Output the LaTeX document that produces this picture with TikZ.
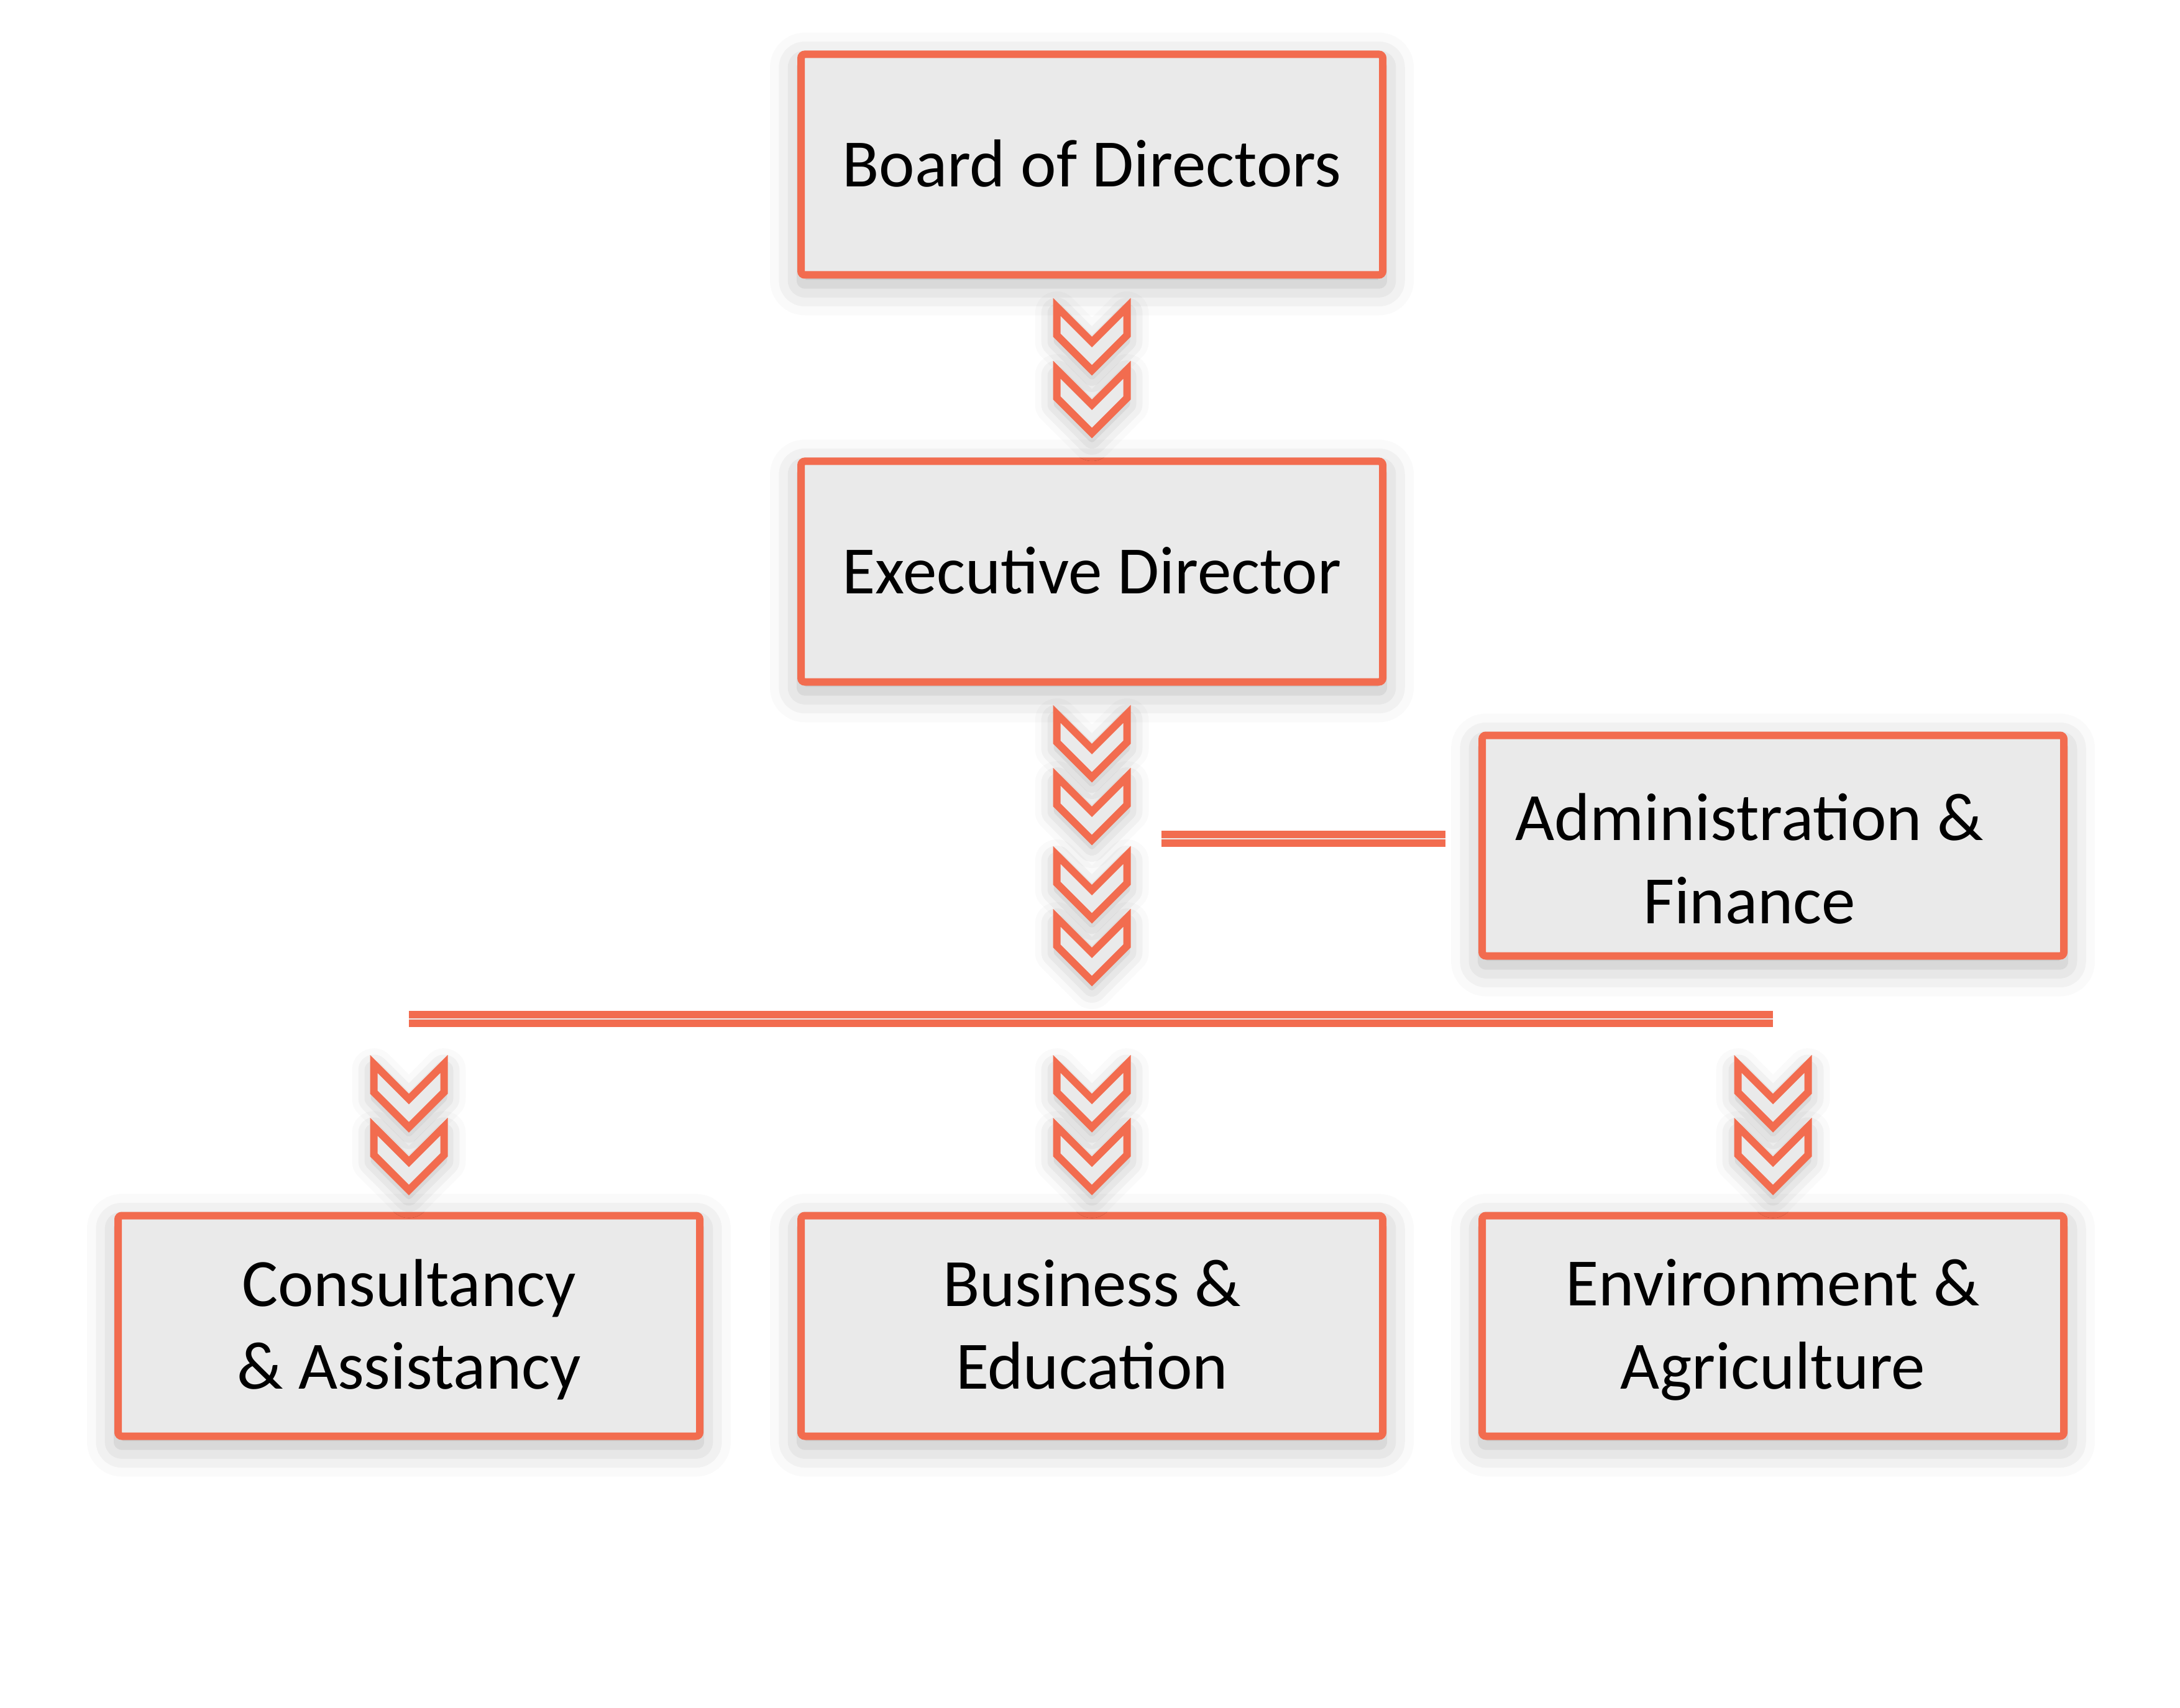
\documentclass[tikz,border=0pt]{standalone}
\usepackage{fontspec}
\setmainfont{Carlito}
\usetikzlibrary{calc,shadows.blur}
\definecolor{coral}{HTML}{F26C4F}
\definecolor{boxgray}{HTML}{EAEAEA}
\newcommand{\lnstrut}{\rule[-5pt]{0pt}{30pt}}

\begin{document}
\begin{tikzpicture}[
	unit/.style={draw=coral, line width=0.12cm, fill=boxgray,
	rounded corners=0.06cm, minimum width=9.36cm, minimum height=3.55cm,
	align=center, font=\fontsize{31}{38}\selectfont,
	blur shadow={shadow xshift=0cm, shadow yshift=-0.15cm,
	shadow blur radius=0.5cm, shadow opacity=30}},
	bar/.style={draw=coral, line width=0.12cm, double=boxgray,
	double distance=0.02cm},
	pics/chevpair/.style={code={
	  \foreach \t in {1.13,0.12}
	  \draw[draw=coral, line width=0.12cm, fill=boxgray,
	    blur shadow={shadow xshift=0cm, shadow yshift=-0.1cm,
	    shadow blur radius=0.35cm, shadow opacity=30}]
	    (-0.565,\t-0.145) -- (-0.565,\t-0.60) -- (0,\t-1.165)
	    -- (0.565,\t-0.60) -- (0.565,\t-0.145) -- (0,\t-0.71) -- cycle;
	}}]
	\useasboundingbox (0,0) rectangle (35.08,-27.49);
	% boxes
	\node[unit] (board) at (17.57,-2.65) {\lnstrut Board of Directors};
	\node[unit] (exec) at (17.57,-9.20) {\lnstrut Executive Director};
	\node[unit, label={[font=\fontsize{31}{38}\selectfont, align=center,
	  xshift=-0.38cm, yshift=-0.235cm]center:\lnstrut Administration \&\\
	  \lnstrut Finance}] (admin) at (28.53,-13.61) {};
	\node[unit] (cons) at (6.58,-21.34) {\lnstrut Consultancy\\\lnstrut\& Assistancy};
	\node[unit] (busi) at (17.57,-21.34) {\lnstrut Business \&\\\lnstrut Education};
	\node[unit] (envi) at (28.53,-21.34) {\lnstrut Environment \&\\\lnstrut Agriculture};
	% bus and feed line
	\coordinate (busl) at (cons.north |- 0,-16.40);
	\coordinate (busr) at (envi.north |- 0,-16.40);
	\coordinate (feed) at (18.69,-13.50);
	\draw[bar] (busl) -- (busr);
	\draw[bar] (feed) -- ($(feed -| admin.west)+(-0.53,0)$);
	% chevrons
	\pic at ($(board.south)!0.5!(exec.north)$) {chevpair};
	\coordinate (mid) at ($(exec.south)!0.48!(exec.south |- busl)$);
	\pic at ($(mid)+(0,1.135)$) {chevpair};
	\pic at ($(mid)-(0,1.135)$) {chevpair};
	\foreach \n in {cons,busi,envi}
	  \pic at ($(\n.north |- busl)!0.55!(\n.north)$) {chevpair};
\end{tikzpicture}
\end{document}
